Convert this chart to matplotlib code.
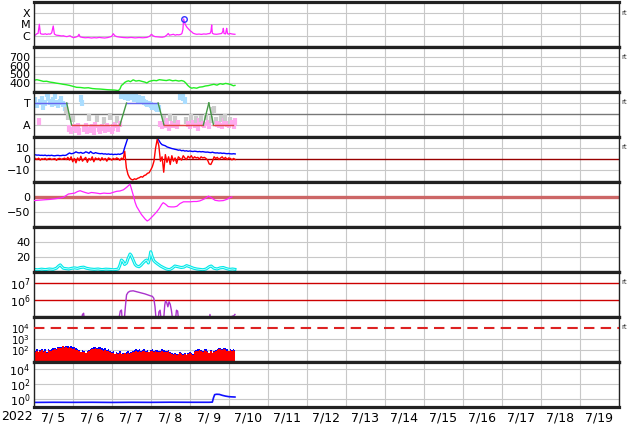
import numpy as np
import matplotlib.pyplot as plt
from matplotlib.ticker import NullLocator

# time axis: days from 2022-07-05 00:00
day_labels = ['7/ 5', '7/ 6', '7/ 7', '7/ 8', '7/ 9', '7/10', '7/11', '7/12',
              '7/13', '7/14', '7/15', '7/16', '7/17', '7/18', '7/19']

# X-ray flux (log10 W/m2)
xray_t = [0.00, 0.04, 0.08, 0.11, 0.144, 0.17, 0.20, 0.25, 0.30, 0.33,
          0.38, 0.42, 0.46, 0.50, 0.53, 0.58, 0.65, 0.72, 0.76, 0.80,
          0.85, 0.90, 0.93, 0.97, 1.02, 1.08, 1.13, 1.16, 1.19, 1.25,
          1.32, 1.40, 1.48, 1.55, 1.61, 1.68, 1.75, 1.82, 1.90, 1.96,
          2.00, 2.04, 2.08, 2.13, 2.20, 2.30, 2.40, 2.50, 2.60, 2.70,
          2.80, 2.90, 2.97, 3.02, 3.06, 3.11, 3.18, 3.24, 3.30, 3.36,
          3.41, 3.45, 3.48, 3.52, 3.58, 3.63, 3.67, 3.72, 3.77, 3.80,
          3.825, 3.845, 3.87, 3.90, 3.93, 3.97, 4.01, 4.05, 4.09, 4.14,
          4.18, 4.24, 4.30, 4.36, 4.42, 4.47, 4.52, 4.545, 4.563, 4.58,
          4.62, 4.69, 4.75, 4.82, 4.85, 4.862, 4.88, 4.92, 4.935, 4.948,
          4.97, 5.00, 5.03, 5.08, 5.12, 5.16]
xray_v = [-5.93, -5.95, -5.82, -5.80, -4.98, -5.80, -5.85, -5.87, -5.83, -5.88,
          -5.84, -5.86, -5.75, -5.13, -5.85, -5.95, -5.98, -6.02, -6.00, -6.05,
          -6.08, -6.03, -6.00, -6.10, -6.17, -6.12, -6.05, -5.87, -6.10, -6.15,
          -6.18, -6.16, -6.20, -6.17, -6.19, -6.15, -6.18, -6.20, -6.16, -6.10,
          -6.05, -5.82, -6.00, -6.08, -6.12, -6.16, -6.18, -6.15, -6.19, -6.16,
          -6.18, -6.15, -6.05, -5.87, -6.00, -6.08, -6.10, -6.12, -6.13, -6.08,
          -5.95, -5.80, -5.95, -5.92, -5.87, -5.95, -5.90, -5.92, -5.88, -5.80,
          -5.45, -4.51, -4.85, -5.08, -5.25, -5.40, -5.55, -5.65, -5.78, -5.84,
          -5.87, -5.85, -5.88, -5.84, -5.86, -5.82, -5.80, -5.60, -5.04, -5.78,
          -5.85, -5.87, -5.84, -5.80, -5.60, -5.34, -5.80, -5.84, -5.55, -5.34,
          -5.82, -5.86, -5.80, -5.84, -5.86, -5.87]
flare_t = [3.845]
flare_v = [-4.51]

# solar wind speed (km/s)
speed_t = [0.00, 0.08, 0.17, 0.25, 0.33, 0.42, 0.50, 0.58, 0.67, 0.75,
           0.83, 0.92, 1.00, 1.10, 1.20, 1.30, 1.40, 1.50, 1.60, 1.70,
           1.80, 1.90, 2.00, 2.08, 2.17, 2.21, 2.25, 2.29, 2.33, 2.38,
           2.43, 2.48, 2.55, 2.62, 2.70, 2.78, 2.85, 2.90, 2.96, 3.02,
           3.08, 3.15, 3.22, 3.32, 3.40, 3.48, 3.56, 3.64, 3.72, 3.79,
           3.85, 3.90, 3.95, 4.00, 4.05, 4.10, 4.18, 4.25, 4.33, 4.40,
           4.48, 4.55, 4.62, 4.70, 4.78, 4.85, 4.92, 5.00, 5.06, 5.12,
           5.16]
speed_v = [430, 438, 428, 418, 420, 410, 405, 398, 392, 385,
           380, 372, 362, 350, 348, 342, 345, 336, 332, 330,
           326, 322, 320, 318, 312, 330, 372, 385, 405, 418,
           425, 415, 436, 422, 428, 418, 410, 400, 418, 425,
           430, 426, 438, 432, 428, 436, 425, 430, 422, 428,
           420, 400, 372, 352, 340, 345, 340, 352, 356, 365,
           370, 378, 385, 375, 392, 385, 395, 388, 380, 368,
           372]

# IMF sector (hourly phi, T=+1 / A=-1) and sector boundaries
phi = [0.9, 1.2, 0.8, -0.7, 1.1, 1.3, 0.7, 1.0, 1.8, 1.5, 1.1, 0.9, 1.2, 1.7, 1.0,
       0.8, 1.1, 1.3, 0.9, 0.6, 0.3,
       -0.2, -1.3, -1.5, -0.4, -1.2, -1.4, -1.1, -1.6, 1.4, 1.0, -1.3, -1.1, -1.5,
       -0.3, -1.4, -1.2, -1.6, -1.0, -0.4, -1.3, -1.5, -1.2, -0.6, -1.4, -1.1, -1.3,
       -0.2, -1.5, -1.2, -1.0, -0.5, -1.3, -0.9,
       1.7, 1.8, 1.6, 1.9, 1.5, 1.7, 1.6, 1.8, 1.4, 1.5, 1.3, 1.4, 1.2, 1.3, 1.1,
       1.0, 0.9, 0.9, 0.8, 0.7, 0.7, 0.6, 0.5, 0.5,
       -0.9, -1.1, -0.4, -1.0, -0.7, -1.2, -0.3, -0.9, -1.0, -0.5, -1.1, -0.8,
       1.6, 1.8, 1.5, 1.2,
       -0.6, -0.9, -1.1, -0.3, -0.8, -1.0, -0.5, -1.2, -0.7, -0.4, -0.9, -1.0,
       -0.2, -0.8, -1.1, -0.5, 0.3, 0.4, -0.6, -0.9, -1.0, -0.4, -1.1, -0.7,
       -0.3, -0.9, -1.0, -0.6, -0.8, -1.1, -0.7]
sector_t = [0.0, 0.845, 0.97, 2.21, 2.38, 3.19, 3.34, 4.35, 4.49, 4.61, 5.12]
sector_v = [1, 1, -1, -1, 1, 1, -1, -1, 1, -1, -1]

# IMF Bt and Bz (nT, hourly)
bt = [4.0, 3.8, 3.5, 3.6, 3.3, 3.4, 3.2, 3.5, 3.0, 3.3, 3.1, 3.4, 3.0, 2.9, 3.2,
      3.3, 3.0, 3.1, 3.4, 3.2, 3.5,
      4.5, 5.5, 4.8, 5.0, 5.6, 6.5, 5.8, 5.5, 6.0, 5.2,
      5.5, 6.5, 6.0, 5.2, 6.8, 5.5, 5.0, 5.8, 5.3, 5.0,
      4.8, 5.0, 4.5, 4.7, 4.3, 4.6, 4.2, 4.4, 4.0, 4.3, 4.1, 4.5, 4.2, 4.8, 5.5,
      10.5, 15.0,
      19.5, 19.8, 19.6, 19.9, 19.5, 19.7, 19.4, 19.6, 19.8, 19.5, 19.3,
      19.0, 18.8, 18.9, 19.2, 19.0, 19.5, 19.3, 19.0,
      17.0, 14.5, 13.0, 12.5, 12.0, 11.0, 10.5, 10.0, 9.5, 9.2, 8.8, 8.5, 8.0,
      8.2, 7.5, 7.8, 7.2, 7.5, 7.0, 7.3,
      7.0, 6.8, 7.1, 6.9, 6.6, 6.8, 6.5, 6.7, 6.4, 6.2, 6.3, 6.0, 5.8, 6.2,
      5.7, 5.5, 5.6, 5.3, 5.5, 5.1, 5.3, 5.0, 4.8, 5.0, 4.7, 4.6, 4.8, 4.6]
bz = [1.0, 0.5, -0.5, 0.8, -1.0, 0.3, -0.3, 0.6, -0.8, 0.2, 0.5, -0.5, 0.0, 0.4,
      -1.2, 0.3, 0.6, -0.4, 0.2, 0.8, -0.5,
      1.5, -1.0, 2.0, -2.5, 0.5, -3.5, 1.0, -1.5, 2.5, -2.0, 0.0, 1.5, -3.0, 0.5,
      -1.0, 2.0, -2.5, 1.0, -0.5, 0.8, -1.5, 1.2, -0.8, 0.5, -2.0, 1.0, 0.2, -1.0,
      0.6, -0.5, 1.0, 0.3, -1.2, 0.8, -0.5,
      7.0, -8.0, -14.0, -17.0, -18.5, -19.0, -18.0, -18.5, -17.5, -17.0, -16.0,
      -16.5, -15.0, -14.5, -13.0, -12.5, -10.0, -7.0, -2.0, 10.0, 18.0, 12.0, -2.0,
      2.0, -12.0, 4.0, -3.0, 2.0, -5.0, 3.0, -2.0, 1.0, -4.0, 2.0, 0.5, -1.0, 3.0,
      1.0, -0.5, 2.5, 1.0, 3.0, 0.5, 2.0, 1.0, 1.5, 0.0, 2.0, 1.0, 1.5, 0.5, -1.0,
      -4.5, -5.0, -2.0, 2.0, 0.5, 1.5, -0.5, 1.0, 2.0, 0.0, 1.5, -0.5, 1.0, 0.5,
      -0.8, 0.5, -0.5]

# Dst (nT)
dst_t = [0.00, 0.10, 0.20, 0.30, 0.42, 0.55, 0.65, 0.76, 0.82, 0.89,
         0.95, 1.05, 1.12, 1.19, 1.25, 1.32, 1.40, 1.48, 1.55, 1.61,
         1.70, 1.80, 1.88, 1.96, 2.05, 2.13, 2.21, 2.30, 2.38, 2.43,
         2.47, 2.51, 2.55, 2.60, 2.64, 2.70, 2.76, 2.81, 2.86, 2.91,
         2.96, 3.02, 3.08, 3.15, 3.22, 3.28, 3.32, 3.38, 3.45, 3.52,
         3.60, 3.67, 3.75, 3.84, 3.92, 4.01, 4.10, 4.18, 4.26, 4.35,
         4.42, 4.48, 4.55, 4.65, 4.75, 4.86, 4.95, 5.02, 5.08]
dst_v = [-12, -11, -10, -9, -8, -6, -4, -1, 4, 10,
         11, 13, 18, 21, 18, 15, 12, 15, 14, 13,
         11, 13, 12, 12, 16, 19, 20, 24, 32, 38,
         43, 25, 7, -18, -32, -45, -58, -66, -74, -80,
         -76, -68, -60, -50, -38, -25, -19, -24, -32, -33,
         -33, -31, -22, -16, -16, -16, -15, -15, -13, -8,
         -3, 3, -2, -11, -13, -12, -8, -3, 0]

# cyan panel
cyan_t = [0.00, 0.10, 0.20, 0.30, 0.40, 0.50, 0.58, 0.64, 0.68, 0.72,
          0.76, 0.82, 0.90, 0.98, 1.05, 1.12, 1.20, 1.28, 1.35, 1.45,
          1.55, 1.65, 1.75, 1.85, 1.95, 2.05, 2.12, 2.17, 2.21, 2.25,
          2.29, 2.33, 2.38, 2.42, 2.47, 2.50, 2.55, 2.60, 2.64, 2.70,
          2.75, 2.80, 2.86, 2.90, 2.94, 2.97, 3.00, 3.04, 3.08, 3.12,
          3.17, 3.25, 3.32, 3.40, 3.48, 3.55, 3.62, 3.70, 3.78, 3.85,
          3.92, 4.00, 4.10, 4.18, 4.26, 4.34, 4.42, 4.50, 4.55, 4.62,
          4.70, 4.78, 4.86, 4.94, 5.02, 5.10, 5.16]
cyan_v = [3.5, 3.0, 3.8, 3.2, 4.0, 3.5, 5.0, 8.0, 9.5, 7.0,
          5.0, 4.5, 4.0, 5.0, 5.5, 4.8, 6.0, 6.5, 5.0, 4.0,
          3.5, 4.0, 3.2, 3.8, 3.5, 3.0, 3.5, 4.0, 9.0, 16.0,
          14.0, 10.0, 12.0, 18.0, 24.0, 22.0, 16.0, 10.0, 8.0, 7.0,
          9.0, 12.0, 15.0, 16.0, 12.0, 18.0, 27.0, 20.0, 15.0, 13.0,
          11.0, 8.0, 6.0, 4.0, 3.0, 5.0, 8.0, 7.0, 6.0, 6.5,
          8.5, 7.0, 5.0, 4.0, 3.5, 3.0, 4.0, 7.0, 8.0, 5.0,
          4.0, 5.5, 6.0, 4.5, 3.5, 4.0, 3.5]

# proton flux (log10)
prot_t = [0.00, 1.20, 1.25, 1.28, 1.31, 2.15, 2.22, 2.25, 2.28, 2.31,
          2.35, 2.38, 2.42, 2.47, 2.55, 2.65, 2.75, 2.85, 2.95, 3.00,
          3.04, 3.08, 3.11, 3.14, 3.18, 3.21, 3.24, 3.28, 3.32, 3.36,
          3.38, 3.41, 3.44, 3.47, 3.50, 3.53, 3.57, 3.62, 3.66, 3.69,
          3.72, 3.75, 4.48, 4.52, 4.56, 5.05, 5.09, 5.12, 5.16]
prot_v = [4.5, 4.5, 5.15, 5.22, 4.5, 4.5, 5.35, 5.41, 4.5, 4.5,
          5.6, 6.3, 6.45, 6.52, 6.54, 6.48, 6.42, 6.36, 6.28, 6.24,
          6.22, 6.1, 5.6, 4.8, 4.5, 5.3, 5.4, 4.6, 4.5, 5.7,
          5.95, 5.85, 5.6, 5.9, 5.75, 5.4, 4.7, 4.5, 5.4, 5.35,
          4.7, 4.5, 4.5, 5.15, 4.5, 4.5, 5.05, 5.05, 5.15]

# electron flux (log10, hourly)
elec_blue = [2.0, 1.9, 2.1, 1.3, 2.0, 2.1, 1.9, 2.05, 1.8, 2.1, 2.0,
             2.1, 2.15, 2.2, 2.1, 2.25, 2.3,
             2.3, 2.35, 2.3, 2.4, 2.35, 2.3, 2.4, 2.25, 2.3, 2.2,
             2.1, 2.0, 1.5, 2.0, 1.9, 1.3, 1.9,
             2.0, 2.1, 2.2, 2.25, 2.3, 2.2, 2.3, 2.25, 2.2, 2.1, 2.15, 2.0, 2.1, 1.9,
             1.8, 1.9, 1.5, 1.8, 1.7, 1.9, 1.6, 1.75, 1.7, 1.8, 1.9, 1.7, 1.85, 1.9, 2.0,
             2.05, 2.0, 2.1, 1.95, 2.0, 2.05, 1.9, 2.0, 1.6, 2.0, 2.05, 1.95, 2.0, 2.0,
             1.9, 1.95, 2.05, 2.0, 1.9, 1.95, 2.0, 1.85,
             1.7, 1.6, 1.75, 1.65, 1.5, 1.8, 1.7, 1.6, 1.7, 1.3, 1.75, 1.8, 1.7, 1.6,
             1.9, 2.0,
             2.05, 2.1, 2.0, 1.95, 2.1, 2.05, 1.9, 1.5, 2.0, 1.6, 1.9, 2.0,
             2.1, 2.15, 2.2, 2.1, 2.2, 2.15, 2.1, 1.4, 2.1, 2.0, 2.1, 2.0]
elec_red = [1.9, 1.8, 1.95, 1.85, 1.9, 2.0, 1.8, 1.9, 1.75, 2.0, 1.9,
            1.95, 2.0, 2.1, 2.0, 2.15, 2.2,
            2.2, 2.4, 2.2, 2.25, 2.2, 2.3, 2.2, 2.1, 2.15, 2.0,
            2.0, 1.9, 1.8, 1.85, 1.8, 1.7, 1.8,
            1.9, 2.0, 2.05, 2.1, 2.15, 2.1, 2.05, 2.1, 2.0, 1.95, 2.0, 1.9, 1.95, 1.8,
            1.7, 1.75, 1.6, 1.7, 1.6, 1.75, 1.65, 1.6, 1.7, 1.6, 1.75, 1.65, 1.7, 1.8, 1.85,
            1.9, 1.85, 1.95, 1.8, 1.9, 1.95, 1.8, 1.85, 1.8, 1.9, 1.95, 1.85, 1.9, 1.85,
            1.8, 1.85, 1.9, 1.85, 1.8, 1.85, 1.9, 1.75,
            1.6, 1.55, 1.65, 1.55, 1.6, 1.7, 1.6, 1.55, 1.6, 1.5, 1.65, 1.7, 1.6, 1.55,
            1.8, 1.9,
            1.95, 2.0, 1.9, 1.85, 2.0, 1.95, 1.8, 1.7, 1.9, 1.75, 1.8, 1.9,
            2.0, 2.05, 2.1, 2.0, 2.1, 2.0, 1.95, 1.9, 2.0, 1.9, 2.0, 1.9]

# bottom panel (log10)
low_t = [0.00, 0.50, 1.00, 1.50, 2.00, 2.50, 3.00, 3.50, 4.00, 4.50,
         4.58, 4.61, 4.64, 4.69, 4.76, 4.84, 4.92, 5.00, 5.08, 5.16]
low_v = [-0.42, -0.40, -0.41, -0.40, -0.42, -0.40, -0.41, -0.39, -0.40, -0.40,
         -0.38, 0.20, 0.62, 0.67, 0.65, 0.52, 0.42, 0.35, 0.32, 0.30]

GRID = '#c8c8c8'

fig, axes = plt.subplots(9, 1, figsize=(6.34, 4.24), dpi=100)
fig.subplots_adjust(left=0.0532, right=0.9758, top=0.9953, bottom=0.0401, hspace=0)


def hline(ax, y, c=GRID, lw=0.8, ls='-'):
    ax.axhline(y, color=c, lw=lw, ls=ls, zorder=0.6)


for ax in axes:
    ax.set_xlim(0, 15)
    ax.set_xticks(np.arange(16))
    ax.set_xticklabels([])
    ax.set_xticks(np.arange(15) + 0.5, minor=True)
    ax.set_xticklabels([], minor=True)
    ax.tick_params(axis='both', which='both', length=0, labelsize=8, pad=2.5)
    ax.grid(axis='x', which='major', color=GRID, lw=0.8)
    ax.set_axisbelow(True)
    for s in ['top', 'bottom']:
        ax.spines[s].set_linewidth(2.3)
        ax.spines[s].set_color('#222222')
    for s in ['left', 'right']:
        ax.spines[s].set_linewidth(1.0)
        ax.spines[s].set_color('#222222')

# 1: X-ray
ax = axes[0]
ax.set_yscale('log')
ax.set_ylim(1e-7, 1e-3)
for y in [1e-6, 1e-5, 1e-4]:
    hline(ax, y)
ax.plot(xray_t, 10 ** np.array(xray_v), color='#ff22ff', lw=0.9)
ax.plot(flare_t, 10 ** np.array(flare_v), 'o', mfc='none', mec='#3333ff', ms=4, mew=1)
ax.set_yticks([1e-6, 1e-5, 1e-4], ['C', 'M', 'X'])

# 2: solar wind speed
ax = axes[1]
ax.set_ylim(296, 815)
for y in [400, 500, 600, 700, 800]:
    hline(ax, y)
ax.plot(speed_t, speed_v, color='#22ee22', lw=1)
ax.set_yticks([400, 500, 600, 700])

# 3: IMF sector
ax = axes[2]
ax.set_ylim(-2.09, 2.0)
hline(ax, 1)
hline(ax, -1)
hline(ax, 0, c='#777777', lw=1)
phi = np.array(phi)
hrs = np.arange(len(phi)) / 24
cols = np.where(phi > 0.4, '#aaddff', np.where(phi < -0.6, '#ffaaee', '#cccccc'))
ax.vlines(hrs, phi - 0.3, phi + 0.3, colors=cols, lw=3, zorder=1)
for i in range(len(sector_t) - 1):
    a, b = sector_v[i], sector_v[i + 1]
    c = '#6666ee' if a == b == 1 else ('#dd4444' if a == b == -1 else '#449944')
    ax.plot(sector_t[i:i + 2], sector_v[i:i + 2], color=c, lw=1, zorder=2)
ax.set_yticks([1, -1], ['T', 'A'])

# 4: IMF Bt / Bz
ax = axes[3]
ax.set_ylim(-20.9, 20)
hline(ax, 10)
hline(ax, -10)
hline(ax, 0, c='#990000', lw=1)
hrs = np.arange(len(bt)) / 24
ax.plot(hrs, bt, color='#0000ff', lw=1)
ax.plot(np.arange(len(bz)) / 24, bz, color='#ff0000', lw=1)
ax.set_yticks([10, 0, -10])

# 5: Dst
ax = axes[4]
ax.set_ylim(-100, 50)
hline(ax, -50)
hline(ax, 0, c='#cc6666', lw=2.4)
ax.plot(dst_t, dst_v, color='#ff22ff', lw=0.9, zorder=3)
ax.set_yticks([0, -50])

# 6: cyan
ax = axes[5]
ax.set_ylim(0, 60)
hline(ax, 20)
hline(ax, 40)
ax.plot(cyan_t, cyan_v, color='#00e8e8', lw=2.2)
ax.plot(cyan_t, cyan_v, color='#ccffff', lw=0.6)
ax.set_yticks([20, 40])

# 7: proton flux
ax = axes[6]
ax.set_yscale('log')
ax.set_ylim(1e5, 10 ** 7.647)
hline(ax, 1e6, c='#cc0000', lw=1)
hline(ax, 1e7, c='#cc0000', lw=1)
ax.plot(prot_t, 10 ** np.array(prot_v), color='#aa33cc', lw=1)
ax.set_yticks([1e6, 1e7], ['$10^6$', '$10^7$'])

# 8: electron flux
ax = axes[7]
ax.set_yscale('log')
ax.set_ylim(10 ** 0.909, 1e5)
hline(ax, 1e2)
hline(ax, 1e3)
ax.axhline(1e4, color='#dd2222', lw=1.5, dashes=(5, 3), zorder=3)
hrs = np.arange(len(elec_blue)) / 24
ax.fill_between(hrs, 1, 10 ** np.array(elec_blue), step='mid', color='#0000ff', lw=0, zorder=1)
ax.fill_between(np.arange(len(elec_red)) / 24, 1, 10 ** np.array(elec_red), step='mid',
                color='#ff0000', lw=0, zorder=2)
ax.set_yticks([1e2, 1e3, 1e4], ['$10^2$', '$10^3$', '$10^4$'])
ax.tick_params(axis='y', labelsize=7.3)

# 9: bottom
ax = axes[8]
ax.set_yscale('log')
ax.set_ylim(10 ** -1.03, 10 ** 4.97)
for y in [1e0, 1e2, 1e4]:
    hline(ax, y)
ax.plot(low_t, 10 ** np.array(low_v), color='#1010ff', lw=1.2)
ax.set_yticks([1e0, 1e2, 1e4], ['$10^0$', '$10^2$', '$10^4$'])

for ax in axes:
    ax.yaxis.set_minor_locator(NullLocator())

axes[-1].set_xticklabels(day_labels, minor=True, fontsize=9)
axes[-1].tick_params(axis='x', which='minor', pad=3.5)
fig.text(17 / 634, 1 - 416 / 424, '2022', ha='center', va='center', fontsize=9)

# small "rt" marks at the right
for ypx in [13, 57, 102, 147, 282, 327]:
    fig.text(621 / 634, 1 - ypx / 424, 'rt', fontsize=5, color='#333333', va='center')

fig.savefig('out.png', dpi=100)
